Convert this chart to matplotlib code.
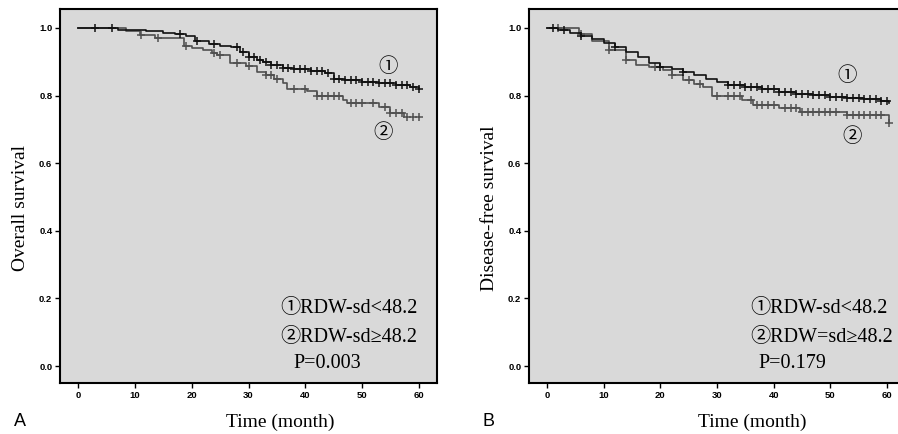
import numpy as np
import matplotlib
matplotlib.use("Agg")
import matplotlib.pyplot as plt

# ---------------- data ----------------
months_ticks = [0, 10, 20, 30, 40, 50, 60]
surv_ticks = [0.0, 0.2, 0.4, 0.6, 0.8, 1.0]

# Panel A: overall survival
a1_t = [0, 7, 12, 15, 17, 19, 20.5, 23, 25, 27, 28.5, 30, 31.5, 32.5, 34, 36, 38, 41, 43.5, 45, 47, 50, 53, 56, 58.5, 60]
a1_s = [1.0, 0.995, 0.99, 0.986, 0.981, 0.975, 0.962, 0.953, 0.948, 0.945, 0.93, 0.915, 0.905, 0.898, 0.89, 0.882, 0.878, 0.872, 0.866, 0.85, 0.845, 0.84, 0.836, 0.831, 0.826, 0.82]
a1_c = [3, 6, 18, 21, 24, 28, 29, 30, 31, 32, 33, 34, 35, 36, 37, 38, 39, 40, 41, 42, 43, 44, 45, 46, 47, 48,
        49, 50, 51, 52, 53, 54, 55, 56, 57, 58, 59, 60]
a2_t = [0, 8.5, 10.9, 13.5, 18.7, 20, 22, 23.5, 24.5, 26.8, 29.5, 31.5, 33, 34.5, 36, 36.8, 40.3, 42, 46.7, 47.3, 53, 55, 57.3]
a2_s = [1.0, 0.99, 0.979, 0.969, 0.947, 0.942, 0.935, 0.927, 0.92, 0.896, 0.888, 0.87, 0.862, 0.848, 0.836, 0.82, 0.814, 0.80, 0.787, 0.778, 0.767, 0.747, 0.738]
a2_c = [11, 14, 19, 24, 25, 28, 30, 33, 34, 35, 38, 40, 42, 43, 44, 45, 46, 48, 49, 50, 52, 54, 55, 56, 57, 58, 59, 60]

# Panel B: disease-free survival
b1_t = [0, 2, 4, 6, 8, 10, 12, 14, 16, 18, 20, 22, 24, 26, 28, 30, 32, 35, 38, 41, 44, 47, 50, 53, 56, 59, 60.3]
b1_s = [1.0, 0.993, 0.985, 0.975, 0.966, 0.955, 0.945, 0.93, 0.915, 0.897, 0.885, 0.878, 0.87, 0.86, 0.85, 0.84, 0.832, 0.826, 0.818, 0.812, 0.806, 0.801, 0.797, 0.793, 0.789, 0.785, 0.778]
b1_c = [1, 3, 6, 12, 20, 24, 32, 33, 34, 35, 36, 37, 38, 39, 40, 41, 42, 43, 44, 45, 46, 47, 48, 49, 50, 51,
        52, 53, 54, 55, 56, 57, 58, 59, 60]
b2_t = [0, 5.7, 8, 11, 14, 15.7, 18, 20.4, 22, 24, 26, 27.5, 29.2, 34.5, 36.3, 41, 44.6, 52.9, 60.3]
b2_s = [1.0, 0.982, 0.96, 0.935, 0.905, 0.89, 0.884, 0.876, 0.862, 0.846, 0.835, 0.824, 0.799, 0.787, 0.772, 0.762, 0.752, 0.743, 0.72]
b2_c = [2, 6, 11, 14, 19, 22, 25, 27, 30, 32, 33, 34, 36, 37, 38, 39, 40, 42, 43, 44, 45, 46, 47, 48, 49, 50,
        51, 53, 54, 55, 56, 57, 58, 59, 60.3]

panel_ylabels = ["Overall survival", "Disease-free survival"]
panel_letters = ["A", "B"]
legend1 = ["\u2460RDW-sd<48.2", "\u2460RDW-sd<48.2"]
legend2 = ["\u2461RDW-sd\u226548.2", "\u2461RDW=sd\u226548.2"]
pvals = ["P=0.003", "P=0.179"]

# ---------------- drawing ----------------
SERIF = ["Liberation Serif", "Noto Sans CJK SC", "DejaVu Sans"]
SANS = ["Liberation Sans", "DejaVu Sans"]

fig = plt.figure(figsize=(8.98, 4.34), dpi=100)
fig.patch.set_facecolor("white")

ax_pos = [
    [60 / 898, 51 / 434, 377 / 898, 374 / 434],
    [529 / 898, 51 / 434, 376 / 898, 374 / 434],
]

curves = [
    ((a1_t, a1_s, a1_c), (a2_t, a2_s, a2_c)),
    ((b1_t, b1_s, b1_c), (b2_t, b2_s, b2_c)),
]

circle_pos = [((54.6, 0.885), (53.7, 0.689)), ((52.9, 0.858), (53.8, 0.678))]
text_x = [(35.6, 37.9), (35.9, 37.3)]
letter_x = [14 / 898, 483 / 898]
xlabel_x = [280 / 898, 752 / 898]
ylabel_x = [21 / 898, 490 / 898]


def step_value(t, s, x):
    t = np.asarray(t)
    s = np.asarray(s)
    idx = np.searchsorted(t, x, side="right") - 1
    idx = np.clip(idx, 0, len(s) - 1)
    return s[idx]


colors = ["#111111", "#505050"]
for i in range(2):
    ax = fig.add_axes(ax_pos[i])
    ax.set_facecolor("#d9d9d9")
    for k, (t, s, c) in enumerate(curves[i]):
        ax.plot(t, s, drawstyle="steps-post", color=colors[k], lw=1.2, zorder=3 - k)
        cy = step_value(t, s, np.asarray(c))
        ax.plot(c, cy, ls="none", marker="+", ms=6, mew=1.1, color=colors[k], zorder=3 - k)
    ax.set_xlim(-3.2, 63.2)
    ax.set_ylim(-0.05, 1.056)
    ax.set_xticks(months_ticks)
    ax.set_yticks(surv_ticks)
    ax.set_xticklabels([str(m) for m in months_ticks])
    ax.set_yticklabels([f"{v:.1f}" for v in surv_ticks])
    for lab in ax.get_xticklabels() + ax.get_yticklabels():
        lab.set_fontfamily(SANS)
        lab.set_fontweight("bold")
        lab.set_fontsize(6.8)
    ax.tick_params(direction="out", length=3.5, width=1.0, pad=2, color="black")
    for sp in ax.spines.values():
        sp.set_linewidth(1.5)
        sp.set_color("black")

    (c1x, c1y), (c2x, c2y) = circle_pos[i]
    ax.text(c1x, c1y, "\u2460", fontsize=14, family=SERIF, ha="center", va="center")
    ax.text(c2x, c2y, "\u2461", fontsize=14, family=SERIF, ha="center", va="center")
    tx, px = text_x[i]
    ax.text(tx, 0.169, legend1[i], fontsize=14.5, family=SERIF, ha="left", va="center")
    ax.text(tx, 0.086, legend2[i], fontsize=14.5, family=SERIF, ha="left", va="center")
    ax.text(px, 0.009, pvals[i], fontsize=14.5, family=SERIF, ha="left", va="center")

    fig.text(ylabel_x[i], 0.5 + 0.02, panel_ylabels[i], rotation=90, fontsize=14,
             family=SERIF, ha="center", va="center")
    fig.text(xlabel_x[i], 1 - 422 / 434, "Time (month)", fontsize=14, family=SERIF,
             ha="center", va="center")
    fig.text(letter_x[i], 1 - 421 / 434, panel_letters[i], fontsize=13, family=SANS,
             ha="left", va="center")

fig.savefig("out.png", dpi=100)
